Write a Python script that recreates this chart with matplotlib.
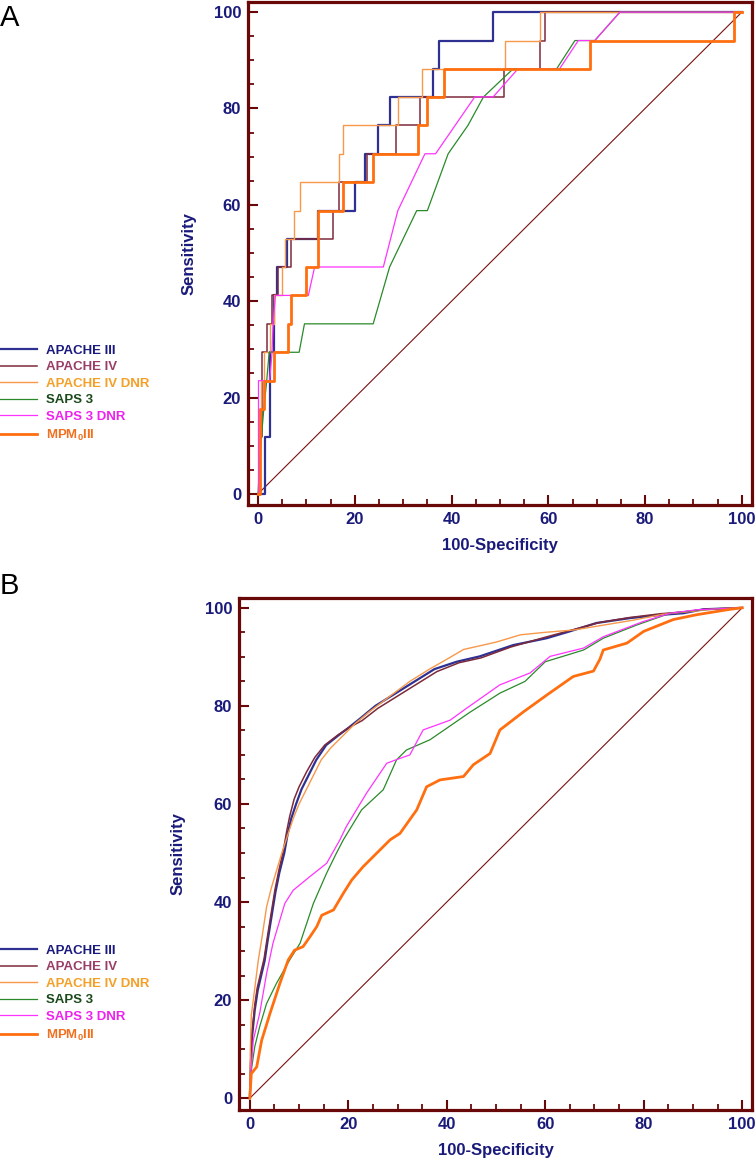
import numpy as np
import matplotlib
matplotlib.use("Agg")
import matplotlib.pyplot as plt
from matplotlib.ticker import MultipleLocator

plt.rcParams['font.family'] = ['Liberation Sans', 'DejaVu Sans']
plt.rcParams['mathtext.fontset'] = 'custom'
plt.rcParams['mathtext.rm'] = 'Liberation Sans:bold'
plt.rcParams['mathtext.bf'] = 'Liberation Sans:bold'

labels = ['APACHE III', 'APACHE IV', 'APACHE IV DNR', 'SAPS 3', 'SAPS 3 DNR', r'MPM$_\mathbf{0}$III']

# ---- panel A (small cohort, step curves) ----
# step curves: start of each horizontal run (drawn with steps-post)
a_apache3_x = [0, 1.4, 2.4, 3.4, 4.0, 5.9, 12.4, 20.0, 22.1, 24.7, 27.2, 36.2, 37.4, 48.5, 100]
a_apache3_y = [0, 11.8, 29.4, 41.2, 47.1, 52.9, 58.8, 64.7, 70.6, 76.5, 82.4, 88.2, 94.1, 100, 100]
a_apache4_x = [0, 0.4, 0.9, 1.9, 2.8, 4.1, 6.8, 15.4, 16.7, 22.5, 28.5, 33.5, 50.8, 58.3, 59.3, 100]
a_apache4_y = [0, 11.8, 29.4, 35.3, 41.2, 47.1, 52.9, 58.8, 64.7, 70.6, 76.5, 82.4, 88.2, 94.1, 100, 100]
a_apache4dnr_x = [0, 0.2, 0.6, 1.2, 2.4, 3.3, 4.9, 5.6, 7.4, 8.7, 16.8, 17.6, 28.9, 33.8, 51.0, 58.3, 100]
a_apache4dnr_y = [0, 17.6, 23.5, 29.4, 35.3, 41.2, 47.1, 52.9, 58.8, 64.7, 70.6, 76.5, 82.4, 88.2, 94.1, 100, 100]
a_mpm_x = [0, 0.4, 1.3, 3.3, 6.2, 6.8, 10.0, 12.5, 17.5, 23.8, 33.1, 35.0, 38.4, 68.6, 98.3, 100]
a_mpm_y = [0, 17.6, 23.5, 29.4, 35.3, 41.2, 47.1, 58.8, 64.7, 70.6, 76.5, 82.4, 88.2, 94.1, 100, 100]
# interpolated curves: polyline vertices
a_saps3_x = [0, 0.3, 0.7, 1.2, 1.8, 2.3, 8.5, 9.6, 23.8, 27.2, 32.8, 35.0, 39.3, 43.4, 46.6, 52.7, 61.7, 65.5, 69.6, 74.8, 100]
a_saps3_y = [0, 5.9, 11.8, 17.6, 23.5, 29.4, 29.4, 35.3, 35.3, 47.1, 58.8, 58.8, 70.6, 76.5, 82.4, 88.2, 88.2, 94.1, 94.1, 100, 100]
a_saps3dnr_x = [0, 0.1, 0.1, 2.4, 2.9, 3.1, 3.6, 10.4, 11.7, 25.9, 28.9, 34.5, 36.7, 44.8, 48.6, 53.7, 62.3, 66.2, 69.6, 74.8, 100]
a_saps3dnr_y = [0, 0, 23.5, 23.5, 29.4, 35.3, 41.2, 41.2, 47.1, 47.1, 58.8, 70.6, 70.6, 82.4, 82.4, 88.2, 88.2, 94.1, 94.1, 100, 100]

# ---- panel B (large cohort) ----
b_apache3_x = [0, 0.2, 0.5, 1.0, 1.6, 2.3, 3.0, 3.6, 4.4, 5.2, 6.0, 7.0, 7.7, 8.4, 9.4, 10.5, 12.0, 13.5, 15.5, 18.0, 20.0, 22.5, 25.5, 29.5, 33.5, 37.5, 42.0, 46.7, 53.5, 60.3, 65.0, 70.4, 77.2, 84.0, 88.1, 92.1, 97.6, 100]
b_apache3_y = [0, 7, 13, 18, 22, 25, 28, 32, 37, 42, 46, 50, 54, 57, 60, 63, 66, 69, 72, 74, 75.5, 77.5, 80, 82.5, 85, 87.5, 89, 90.1, 92.4, 93.8, 95.2, 96.9, 97.9, 98.6, 98.9, 99.7, 99.9, 100]
b_apache4_x = [0, 0.2, 0.5, 1.0, 1.5, 2.2, 2.9, 3.5, 4.3, 5.1, 5.9, 6.8, 7.5, 8.1, 9.0, 10.0, 11.5, 13.2, 15.2, 17.8, 20.0, 22.8, 26.0, 30.0, 34.0, 38.0, 42.5, 47.0, 53.0, 60.0, 65.5, 71.0, 77.0, 83.5, 88.5, 92.5, 97.0, 100]
b_apache4_y = [0, 8, 14, 19, 22.5, 25.5, 28.5, 32.5, 37.5, 42.5, 46.5, 50.5, 54.5, 57.5, 61, 63.5, 66.5, 69.5, 72, 74, 75.5, 77, 79.5, 82, 84.5, 87, 88.8, 89.8, 92, 94, 95.5, 97, 98, 98.8, 99.2, 99.7, 99.9, 100]
b_apache4dnr_x = [0, 0.1, 0.3, 0.7, 1.2, 1.7, 2.5, 3.4, 4.4, 5.3, 6.5, 7.8, 8.8, 10.0, 11.5, 13.0, 14.5, 16.5, 19.0, 21.5, 24.5, 28.5, 32.5, 36.5, 40.0, 43.4, 50.0, 55.0, 60.0, 66.0, 72.0, 78.0, 84.0, 90.0, 95.0, 100]
b_apache4dnr_y = [0, 10, 17, 20, 24, 28, 33, 39, 43, 46, 50, 54, 57, 60, 63, 66, 69, 71.5, 74, 76.5, 79, 82, 85, 87.5, 89.5, 91.5, 93, 94.5, 95, 95.5, 96.5, 97.5, 98.7, 99.3, 99.8, 100]
b_saps3_x = [0, 0.2, 1.0, 2.0, 3.4, 5.4, 8.1, 10.2, 12.9, 15.6, 17.6, 19.0, 22.7, 27.1, 29.8, 31.8, 36.6, 44.7, 50.8, 55.9, 60.0, 67.8, 71.8, 78.6, 85.4, 91.5, 100]
b_saps3_y = [0, 5.0, 10.5, 14.6, 19.3, 23.4, 28.2, 31.6, 39.7, 45.9, 50.0, 52.7, 58.8, 62.9, 69.0, 71.0, 73.1, 78.7, 82.6, 85.0, 89.0, 91.4, 93.8, 96.5, 98.9, 99.6, 100]
b_saps3dnr_x = [0, 0, 0.7, 2.0, 3.4, 4.7, 7.1, 8.8, 12.2, 15.6, 18.3, 19.6, 23.7, 27.8, 30.5, 32.5, 35.2, 40.7, 44.0, 50.8, 56.9, 61.0, 67.8, 71.8, 79.9, 85.4, 90.8, 100]
b_saps3dnr_y = [0, 2.3, 11.8, 17.3, 25.4, 31.6, 39.7, 42.4, 45.2, 47.9, 52.7, 55.4, 62.2, 68.3, 69.3, 70.0, 75.1, 77.1, 79.5, 84.3, 86.7, 90.1, 91.8, 94.1, 97.2, 98.9, 99.6, 100]
b_mpm_x = [0, 0.3, 1.4, 2.4, 4.1, 6.1, 7.8, 9.1, 10.8, 12.2, 13.6, 14.6, 17.0, 19.0, 20.7, 23.0, 25.7, 28.5, 30.5, 33.9, 35.9, 38.6, 43.4, 45.4, 48.8, 50.8, 55.6, 60.3, 65.7, 69.8, 71.1, 71.8, 76.6, 80.0, 86.0, 90.8, 97.6, 100]
b_mpm_y = [0, 5.0, 6.4, 11.8, 17.3, 23.4, 28.2, 30.2, 30.9, 32.9, 35.0, 37.3, 38.4, 41.8, 44.5, 47.2, 49.9, 52.7, 54.0, 58.8, 63.5, 64.9, 65.6, 68.0, 70.3, 75.1, 78.8, 82.2, 86.0, 87.1, 89.5, 91.4, 92.8, 95.2, 97.6, 98.6, 99.7, 100]

diag_x = [0, 100]
diag_y = [0, 100]

line_colors = ['#2e3192', '#7d2a3a', '#f7984a', '#2a8a2a', '#ff33ff', '#ff6f0f']
line_widths = [1.6, 1.1, 1.0, 0.9, 0.9, 2.0]
text_colors = ['#1a1a7e', '#993d66', '#f4a028', '#1a4a1a', '#ee22ee', '#f07020']
spine_col = '#680808'
navy = '#1a1a7a'

W, H = 756, 1160
fig = plt.figure(figsize=(W / 100, H / 100), dpi=100)


def style_axes(ax, xlim, ylim):
    ax.set_xlim(*xlim)
    ax.set_ylim(*ylim)
    for s in ax.spines.values():
        s.set_color(spine_col)
        s.set_linewidth(2.3)
    ax.xaxis.set_major_locator(MultipleLocator(20))
    ax.yaxis.set_major_locator(MultipleLocator(20))
    ax.xaxis.set_minor_locator(MultipleLocator(5))
    ax.yaxis.set_minor_locator(MultipleLocator(5))
    ax.tick_params(which='major', direction='in', length=7, width=1.5, color=spine_col,
                   labelsize=12, labelcolor=navy, pad=5)
    ax.tick_params(which='minor', direction='in', length=4, width=1.3, color=spine_col)
    ax.tick_params(top=False, right=False, which='both')
    for t in ax.get_xticklabels() + ax.get_yticklabels():
        t.set_fontweight('bold')
    ax.set_xlabel('100-Specificity', fontsize=12, fontweight='bold', color=navy, labelpad=8)
    ax.set_ylabel('Sensitivity', fontsize=12, fontweight='bold', color=navy, labelpad=12)
    ax.plot(diag_x, diag_y, color='#7a1010', lw=0.8)


# panel A
axA = fig.add_axes([248 / W, 1 - 505 / H, 504 / W, 503 / H])
style_axes(axA, (-2.07, 102.1), (-2.3, 102.1))
a_curves = [
    (a_apache3_x, a_apache3_y, 'steps-post'),
    (a_apache4_x, a_apache4_y, 'steps-post'),
    (a_apache4dnr_x, a_apache4dnr_y, 'steps-post'),
    (a_saps3_x, a_saps3_y, 'default'),
    (a_saps3dnr_x, a_saps3dnr_y, 'default'),
    (a_mpm_x, a_mpm_y, 'steps-post'),
]
handlesA = []
for (x, y, ds), c, lw, lab in zip(a_curves, line_colors, line_widths, labels):
    h, = axA.plot(x, y, color=c, lw=lw, drawstyle=ds, label=lab)
    handlesA.append(h)

# panel B
axB = fig.add_axes([239 / W, 1 - 1110 / H, 513 / W, 512 / H])
style_axes(axB, (-2.2, 102.0), (-2.4, 102.0))
axB.yaxis.labelpad = 14
b_curves = [
    (b_apache3_x, b_apache3_y),
    (b_apache4_x, b_apache4_y),
    (b_apache4dnr_x, b_apache4dnr_y),
    (b_saps3_x, b_saps3_y),
    (b_saps3dnr_x, b_saps3dnr_y),
    (b_mpm_x, b_mpm_y),
]
handlesB = []
for (x, y), c, lw, lab in zip(b_curves, line_colors, line_widths, labels):
    h, = axB.plot(x, y, color=c, lw=lw, label=lab)
    handlesB.append(h)

for hs, yc in [(handlesA, 1 - 393.5 / H), (handlesB, 1 - 993.5 / H)]:
    leg = fig.legend(handles=hs, loc='center left', bbox_to_anchor=(0, yc),
                     frameon=False, borderpad=0, borderaxespad=0,
                     handlelength=2.8, handletextpad=0.7, labelspacing=0.33,
                     prop={'size': 9.5, 'weight': 'bold'})
    for t, c in zip(leg.get_texts(), text_colors):
        t.set_color(c)

fig.text(0.0, 1 - 4 / H, 'A', fontsize=21, va='top', ha='left')
fig.text(0.0, 1 - 572 / H, 'B', fontsize=21, va='top', ha='left')

fig.savefig('out.png', dpi=100)
